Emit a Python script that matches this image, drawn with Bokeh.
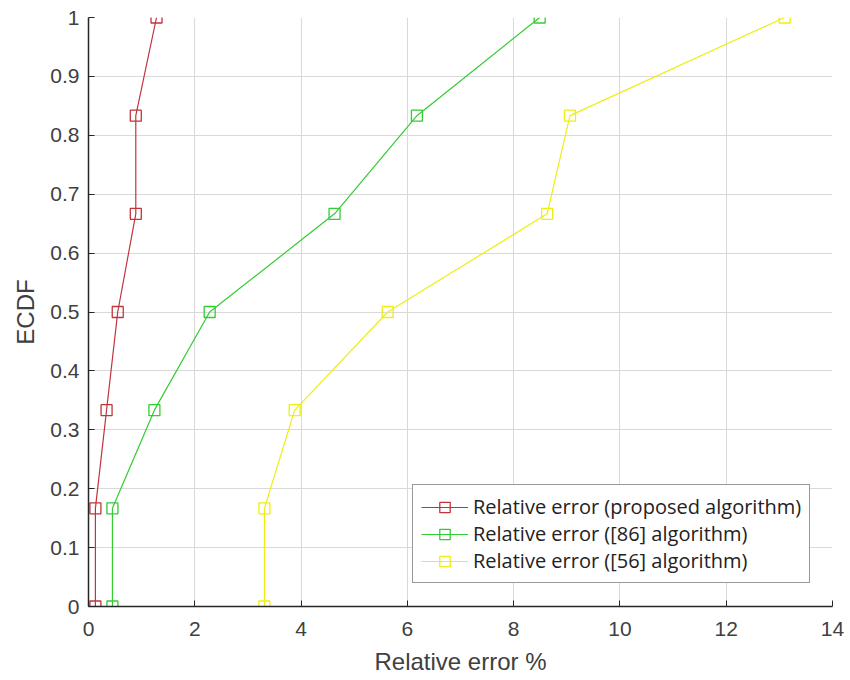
from bokeh.plotting import figure
from bokeh.models import FixedTicker, CustomJSTickFormatter, Legend, LegendItem, Range1d
from bokeh.embed import file_html
from bokeh.resources import INLINE

ecdf = [0, 1/6, 2/6, 3/6, 4/6, 5/6, 1]
err_proposed = [0.13, 0.13, 0.34, 0.55, 0.89, 0.89, 1.28]
err_86 = [0.45, 0.45, 1.24, 2.28, 4.63, 6.18, 8.49]
err_56 = [3.31, 3.31, 3.88, 5.63, 8.63, 9.06, 13.10]
labels = ["Relative error (proposed algorithm)",
          "Relative error ([86] algorithm)",
          "Relative error ([56] algorithm)"]
colors = ["#c0343c", "#33cc33", "#eeee10"]
x_ticks = [0, 2, 4, 6, 8, 10, 12, 14]
y_ticks = [0, 0.1, 0.2, 0.3, 0.4, 0.5, 0.6, 0.7, 0.8, 0.9, 1.0]

p = figure(width=850, height=680, output_backend="svg", toolbar_location=None,
           x_range=Range1d(0, 14), y_range=Range1d(0, 1),
           min_border_left=88, min_border_right=18, min_border_top=17, min_border_bottom=74)
p.frame_width = 744
p.frame_height = 589
p.outline_line_color = None
p.background_fill_color = "white"
p.border_fill_color = "white"

items = []
for xs, lab, c in zip([err_proposed, err_86, err_56], labels, colors):
    r1 = p.line(xs, ecdf, line_color=c, line_width=1.2)
    r2 = p.scatter(xs, ecdf, marker="square", size=11, line_color=c, fill_color=None, line_width=1.3)
    items.append(LegendItem(label=lab, renderers=[r1, r2]))

for ax in (p.xaxis[0], p.yaxis[0]):
    ax.major_tick_in = 6
    ax.major_tick_out = 0
    ax.minor_tick_in = 0
    ax.minor_tick_out = 0
    ax.axis_line_color = "#262626"
    ax.axis_line_width = 1.5
    ax.major_tick_line_color = "#262626"
    ax.major_label_text_font = "Liberation Sans"
    ax.major_label_text_font_size = "21px"
    ax.major_label_text_color = "#404040"
    ax.axis_label_text_font = "Liberation Sans"
    ax.axis_label_text_font_size = "24px"
    ax.axis_label_text_font_style = "normal"
    ax.axis_label_text_color = "#404040"

p.xaxis.ticker = FixedTicker(ticks=x_ticks)
p.yaxis.ticker = FixedTicker(ticks=y_ticks)
p.yaxis.formatter = CustomJSTickFormatter(code="return tick.toFixed(1).replace(/\\.0$/, '');")
p.xaxis.formatter = CustomJSTickFormatter(code="return tick.toFixed(0);")
p.xaxis.axis_label = "Relative error %"
p.yaxis.axis_label = "ECDF"
p.xaxis.major_label_standoff = 15
p.yaxis.major_label_standoff = 9
p.xaxis.axis_label_standoff = 9
p.yaxis.axis_label_standoff = 8

p.xgrid.grid_line_color = "#d9d9d9"
p.ygrid.grid_line_color = "#d9d9d9"
p.xgrid.ticker = FixedTicker(ticks=x_ticks)
p.ygrid.ticker = FixedTicker(ticks=y_ticks)

legend = Legend(items=items, location=(324, 23))
legend.label_text_font = "Open Sans"
legend.label_text_font_size = "20px"
legend.label_text_color = "#222222"
legend.border_line_color = "#333333"
legend.border_line_width = 1.5
legend.background_fill_alpha = 1
legend.glyph_width = 47
legend.label_standoff = 5
legend.spacing = 0
legend.padding = 8
legend.margin = 0
legend.label_height = 26
legend.glyph_height = 26
p.add_layout(legend)

open("out.html", "w").write(file_html(p, INLINE))
